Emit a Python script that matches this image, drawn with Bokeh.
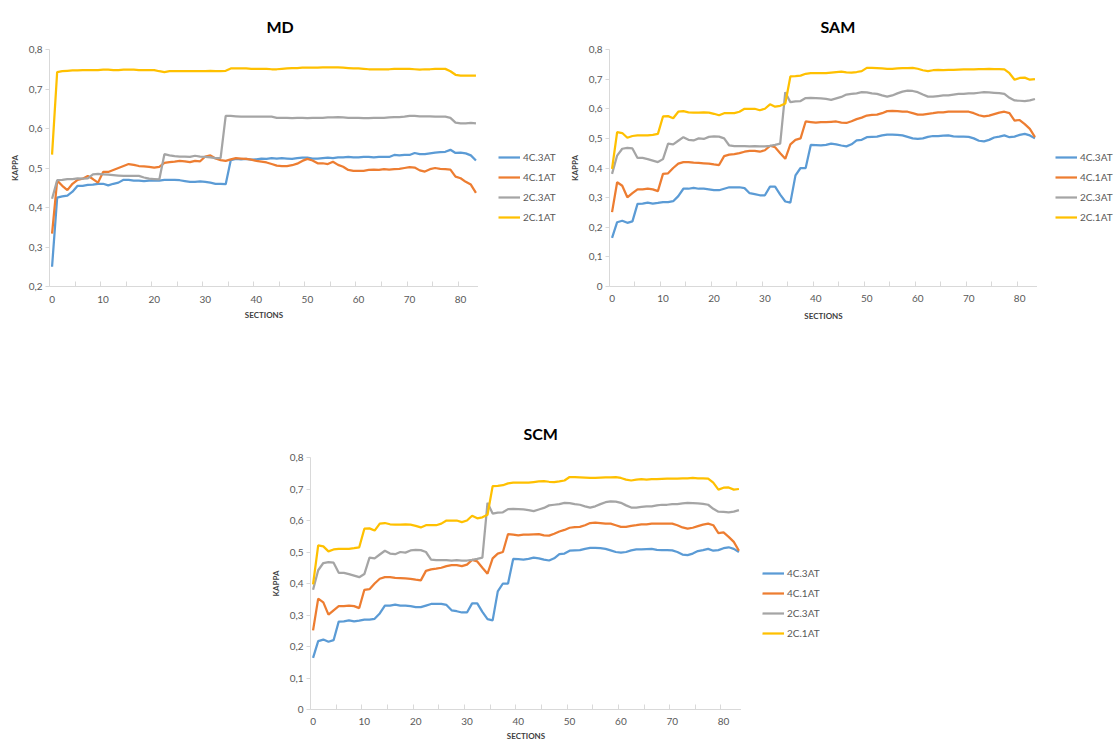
from bokeh.plotting import figure
from bokeh.models import Range1d, FixedTicker, CustomJSTickFormatter, Legend, LegendItem, Spacer
from bokeh.layouts import column, row
from bokeh.embed import file_html
from bokeh.resources import INLINE

sections = list(range(84))
series_names = ["4C.3AT", "4C.1AT", "2C.3AT", "2C.1AT"]
colors = ["#5B9BD5", "#ED7D31", "#A5A5A5", "#FFC000"]
x_tick_labels = [0, 10, 20, 30, 40, 50, 60, 70, 80]
md_y_ticks = [0.2, 0.3, 0.4, 0.5, 0.6, 0.7, 0.8]
sam_y_ticks = [0.0, 0.1, 0.2, 0.3, 0.4, 0.5, 0.6, 0.7, 0.8]

# ---------------- MD ----------------
md_4c3at = [0.25, 0.425, 0.428, 0.43, 0.44, 0.455, 0.455, 0.457, 0.458, 0.46,
            0.46, 0.456, 0.46, 0.463, 0.47, 0.47, 0.468, 0.468, 0.467, 0.468,
            0.468, 0.468, 0.47, 0.47, 0.47, 0.469, 0.467, 0.465, 0.465, 0.466,
            0.465, 0.463, 0.46, 0.46, 0.459, 0.52, 0.523, 0.522, 0.523, 0.521,
            0.522, 0.524, 0.523, 0.525, 0.524, 0.525, 0.524, 0.523, 0.525, 0.526,
            0.526, 0.524, 0.524, 0.525, 0.526, 0.525, 0.527, 0.527, 0.528, 0.527,
            0.527, 0.528, 0.528, 0.527, 0.528, 0.528, 0.528, 0.533, 0.532, 0.533,
            0.533, 0.538, 0.535, 0.535, 0.537, 0.539, 0.54, 0.541, 0.546, 0.538,
            0.539, 0.537, 0.532, 0.519]
md_4c1at = [0.334, 0.468, 0.455, 0.444, 0.46, 0.47, 0.473, 0.48, 0.472, 0.463,
            0.49, 0.49, 0.495, 0.5, 0.505, 0.51, 0.508, 0.505, 0.504, 0.503,
            0.501, 0.503, 0.513, 0.515, 0.516, 0.518, 0.517, 0.515, 0.518, 0.517,
            0.529, 0.532, 0.524, 0.52, 0.518, 0.522, 0.525, 0.524, 0.523, 0.521,
            0.518, 0.516, 0.514, 0.51, 0.506, 0.505, 0.505, 0.507, 0.511, 0.518,
            0.523, 0.519, 0.512, 0.512, 0.51, 0.516, 0.508, 0.503, 0.495, 0.493,
            0.493, 0.493, 0.495, 0.496, 0.495, 0.497, 0.496, 0.497, 0.498, 0.5,
            0.502, 0.501, 0.494, 0.491, 0.497, 0.5, 0.498, 0.497, 0.496, 0.478,
            0.474, 0.465, 0.458, 0.437]
md_2c3at = [0.422, 0.469, 0.47, 0.472, 0.472, 0.474, 0.473, 0.474, 0.484, 0.485,
            0.484, 0.483, 0.482, 0.481, 0.48, 0.48, 0.48, 0.48, 0.476, 0.473,
            0.472, 0.471, 0.535, 0.532, 0.53, 0.529, 0.529, 0.528, 0.531, 0.529,
            0.528, 0.527, 0.525, 0.525, 0.632, 0.632, 0.631, 0.63, 0.63, 0.63,
            0.63, 0.63, 0.63, 0.63, 0.627, 0.627, 0.627, 0.626, 0.627, 0.627,
            0.626, 0.627, 0.627, 0.627, 0.628, 0.628, 0.629, 0.628, 0.627, 0.627,
            0.627, 0.626, 0.626, 0.627, 0.627, 0.627, 0.628, 0.629, 0.629, 0.63,
            0.632, 0.632, 0.631, 0.631, 0.631, 0.63, 0.63, 0.63, 0.627, 0.615,
            0.613, 0.613, 0.614, 0.613]
md_2c1at = [0.534, 0.743, 0.745, 0.746, 0.747, 0.747, 0.748, 0.748, 0.748, 0.748,
            0.749, 0.749, 0.748, 0.748, 0.749, 0.749, 0.749, 0.748, 0.748, 0.748,
            0.748, 0.745, 0.743, 0.745, 0.745, 0.745, 0.745, 0.745, 0.745, 0.745,
            0.745, 0.746, 0.745, 0.745, 0.746, 0.752, 0.752, 0.752, 0.752, 0.751,
            0.751, 0.751, 0.751, 0.75, 0.75, 0.751, 0.752, 0.753, 0.753, 0.754,
            0.754, 0.754, 0.754, 0.755, 0.755, 0.755, 0.755, 0.754, 0.753, 0.752,
            0.752, 0.751, 0.75, 0.75, 0.75, 0.75, 0.75, 0.751, 0.751, 0.751,
            0.751, 0.75, 0.749, 0.75, 0.75, 0.751, 0.751, 0.751, 0.745, 0.736,
            0.734, 0.734, 0.734, 0.734]

# ---------------- SAM ----------------
sam_4c3at = [0.164, 0.217, 0.222, 0.215, 0.22, 0.279, 0.28, 0.283, 0.28, 0.282,
             0.285, 0.285, 0.288, 0.305, 0.33, 0.33, 0.333, 0.33, 0.33, 0.328,
             0.325, 0.325, 0.33, 0.335, 0.335, 0.335, 0.332, 0.315, 0.312, 0.308,
             0.308, 0.337, 0.337, 0.31, 0.287, 0.283, 0.375, 0.4, 0.4, 0.478,
             0.477, 0.476, 0.478, 0.482, 0.48, 0.476, 0.473, 0.48, 0.493, 0.495,
             0.504, 0.505, 0.506, 0.51, 0.513, 0.513, 0.512, 0.51, 0.505, 0.5,
             0.498, 0.5, 0.505, 0.508, 0.508, 0.509, 0.51, 0.507, 0.506, 0.506,
             0.505, 0.5, 0.492, 0.49, 0.495, 0.503, 0.506, 0.51, 0.504, 0.506,
             0.512, 0.515, 0.51, 0.5]
sam_4c1at = [0.251, 0.352, 0.34, 0.301, 0.315, 0.328, 0.328, 0.33, 0.328, 0.322,
             0.38, 0.382, 0.4, 0.415, 0.42, 0.42, 0.418, 0.417, 0.416, 0.415,
             0.412, 0.41, 0.44, 0.445, 0.447, 0.45, 0.455, 0.458, 0.458, 0.455,
             0.46, 0.475, 0.47, 0.45, 0.431, 0.48, 0.495, 0.5, 0.557, 0.555,
             0.553, 0.555, 0.555, 0.556, 0.557, 0.553, 0.552, 0.558, 0.565, 0.57,
             0.577, 0.579, 0.58, 0.585, 0.592, 0.593, 0.592, 0.59, 0.59, 0.585,
             0.58, 0.58, 0.583, 0.585, 0.588, 0.588, 0.59, 0.59, 0.59, 0.59,
             0.59, 0.585, 0.578, 0.574, 0.577, 0.582, 0.587, 0.59, 0.585, 0.56,
             0.562, 0.548, 0.532, 0.504]
sam_2c3at = [0.38, 0.442, 0.465, 0.468, 0.466, 0.434, 0.434, 0.43, 0.425, 0.42,
             0.43, 0.482, 0.48, 0.492, 0.504, 0.495, 0.493, 0.5, 0.498, 0.505,
             0.507, 0.506, 0.5, 0.476, 0.474, 0.474, 0.474, 0.473, 0.474, 0.473,
             0.473, 0.475, 0.478, 0.482, 0.656, 0.622, 0.625, 0.626, 0.636, 0.637,
             0.636, 0.635, 0.633, 0.63, 0.635, 0.64, 0.648, 0.65, 0.652, 0.656,
             0.655, 0.652, 0.65, 0.645, 0.641, 0.645, 0.652, 0.658, 0.661, 0.66,
             0.656, 0.648, 0.641, 0.641, 0.643, 0.645, 0.645, 0.648, 0.65, 0.65,
             0.652, 0.652, 0.654, 0.656, 0.655, 0.654, 0.653, 0.65, 0.637, 0.628,
             0.627, 0.626, 0.628, 0.633]
sam_2c1at = [0.397, 0.521, 0.518, 0.502, 0.508, 0.51, 0.51, 0.51, 0.512, 0.515,
             0.574, 0.575, 0.568, 0.59, 0.592, 0.588, 0.587, 0.587, 0.588, 0.587,
             0.583, 0.578, 0.585, 0.585, 0.585, 0.59, 0.6, 0.6, 0.6, 0.595,
             0.6, 0.615, 0.607, 0.61, 0.618, 0.709, 0.71, 0.712, 0.718, 0.72,
             0.72, 0.72, 0.72, 0.722, 0.724, 0.725, 0.723, 0.722, 0.724, 0.727,
             0.738, 0.738, 0.737, 0.736, 0.735, 0.735, 0.736, 0.737, 0.737, 0.738,
             0.735, 0.73, 0.727, 0.73, 0.731, 0.73, 0.731, 0.731, 0.732, 0.733,
             0.733, 0.733, 0.734, 0.734, 0.735, 0.734, 0.734, 0.733, 0.72, 0.698,
             0.704, 0.705, 0.698, 0.7]

# ---------------- SCM (same curves as SAM in the source) ----------------
scm_4c3at = list(sam_4c3at)
scm_4c1at = list(sam_4c1at)
scm_2c3at = list(sam_2c3at)
scm_2c1at = list(sam_2c1at)

FONT = "Lato"
GREY_TXT = "#595959"
AXIS_C = "#D9D9D9"
LINE_W = 2.25


def make_chart(title, series, y_start, y_ticks, width, height, bl, bt, bb,
               title_off, title_standoff, xlab_standoff, xaxis_standoff):
    p = figure(width=width, height=height,
               output_backend="svg", toolbar_location=None,
               x_range=Range1d(-0.5, 83.5), y_range=Range1d(y_start, 0.8),
               min_border_left=bl, min_border_top=bt, min_border_right=0,
               min_border_bottom=bb)
    p.outline_line_color = None
    p.xgrid.visible = False
    p.ygrid.visible = False
    p.background_fill_color = "white"
    p.border_fill_color = "white"

    p.title.text = title
    p.title.align = "left"
    p.title.offset = title_off
    p.title.standoff = title_standoff
    p.title.text_font = FONT
    p.title.text_font_size = "16px"
    p.title.text_font_style = "bold"
    p.title.text_color = "#000000"

    xa = p.xaxis[0]
    xa.ticker = FixedTicker(ticks=x_tick_labels,
                            minor_ticks=[4.5 + 5 * i for i in range(16)])
    xa.axis_line_color = AXIS_C
    xa.major_tick_line_color = None
    xa.major_tick_in = 0
    xa.major_tick_out = 0
    xa.minor_tick_line_color = AXIS_C
    xa.minor_tick_in = 5
    xa.minor_tick_out = 0
    xa.major_label_text_font = FONT
    xa.major_label_text_font_size = "10px"
    xa.major_label_text_color = GREY_TXT
    xa.major_label_standoff = xlab_standoff
    xa.axis_label = "SECTIONS"
    xa.axis_label_text_font = FONT
    xa.axis_label_text_font_size = "8px"
    xa.axis_label_text_font_style = "bold"
    xa.axis_label_text_color = "#404040"
    xa.axis_label_standoff = xaxis_standoff

    ya = p.yaxis[0]
    ya.ticker = FixedTicker(ticks=y_ticks)
    ya.formatter = CustomJSTickFormatter(
        code="return Math.abs(tick) < 1e-9 ? '0' : tick.toFixed(1).replace('.', ',');")
    ya.axis_line_color = AXIS_C
    ya.major_tick_line_color = AXIS_C
    ya.major_tick_in = 0
    ya.major_tick_out = 4
    ya.minor_tick_line_color = None
    ya.minor_tick_in = 0
    ya.minor_tick_out = 0
    ya.major_label_text_font = FONT
    ya.major_label_text_font_size = "10px"
    ya.major_label_text_color = GREY_TXT
    ya.major_label_standoff = 3
    ya.axis_label = "KAPPA"
    ya.axis_label_text_font = FONT
    ya.axis_label_text_font_size = "8px"
    ya.axis_label_text_font_style = "bold"
    ya.axis_label_text_color = "#404040"
    ya.axis_label_standoff = 6

    for vals, col in zip(series, colors):
        p.line(sections, vals, line_color=col, line_width=LINE_W)
    return p


def make_legend(series, width, height, loc):
    # companion figure holding only the legend; its view range is placed away
    # from the data so that only the legend entries are visible
    lf = figure(width=width, height=height, output_backend="svg",
                toolbar_location=None, title=None,
                x_axis_location=None, y_axis_location=None,
                x_range=Range1d(-1000, -999), y_range=Range1d(0, 1),
                min_border_left=0, min_border_right=0,
                min_border_top=0, min_border_bottom=0)
    lf.outline_line_color = None
    lf.background_fill_color = "white"
    lf.border_fill_color = "white"
    lf.grid.visible = False
    items = []
    for name, vals, col in zip(series_names, series, colors):
        r = lf.line(sections, vals, line_color=col, line_width=LINE_W)
        items.append(LegendItem(label=name, renderers=[r]))
    leg = Legend(items=items, location=loc, orientation="vertical",
                 glyph_width=22, glyph_height=20, label_height=20, label_standoff=3,
                 spacing=0, padding=0, margin=0,
                 label_text_font=FONT, label_text_font_size="10px",
                 label_text_color=GREY_TXT,
                 border_line_alpha=0, background_fill_alpha=0)
    lf.add_layout(leg)
    return lf


md_series = [md_4c3at, md_4c1at, md_2c3at, md_2c1at]
sam_series = [sam_4c3at, sam_4c1at, sam_2c3at, sam_2c1at]
scm_series = [scm_4c3at, scm_4c1at, scm_2c3at, scm_2c1at]

md = make_chart("MD", md_series, 0.2, md_y_ticks,
                478, 323, 49, 47, 36, 217, 27, 9, 4)
md_leg = make_legend(md_series, 82, 323, (20, 59))
sam = make_chart("SAM", sam_series, 0.0, sam_y_ticks,
                 477, 323, 49, 49, 37, 211, 28, 8, 6)
sam_leg = make_legend(sam_series, 78, 323, (18, 59))
scm = make_chart("SCM", scm_series, 0.0, sam_y_ticks,
                 480, 336, 49, 50, 34, 213, 29, 8, 3)
scm_leg = make_legend(scm_series, 79, 336, (21, 66))

layout = column(row(md, md_leg, sam, sam_leg),
                Spacer(width=10, height=84),
                row(Spacer(width=261, height=10), scm, scm_leg))

open("out.html", "w").write(file_html(layout, INLINE))
